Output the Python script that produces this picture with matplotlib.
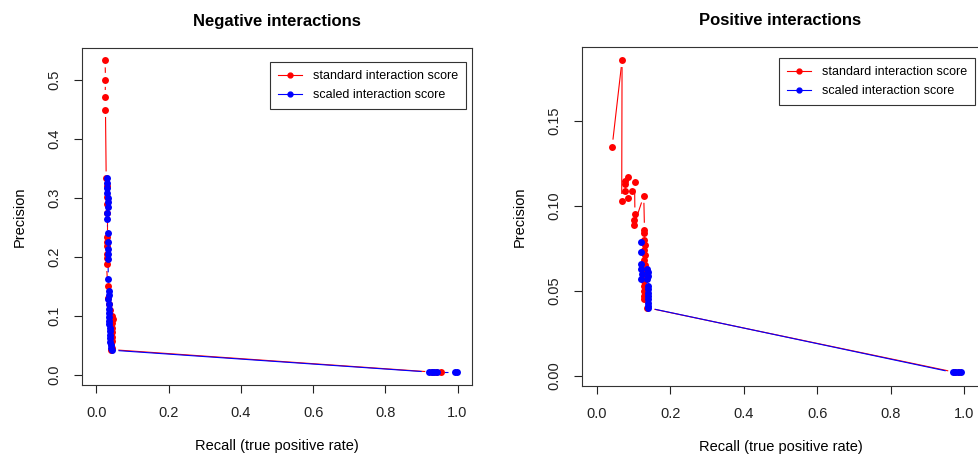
import numpy as np
import matplotlib
matplotlib.use("Agg")
import matplotlib.pyplot as plt
from matplotlib.collections import LineCollection
from matplotlib.lines import Line2D
from matplotlib.transforms import IdentityTransform

plt.rcParams['font.family'] = ['Liberation Sans', 'DejaVu Sans']

# negative interactions (recall, precision)
neg_std_recall = [0.024, 0.025, 0.024, 0.025, 0.027, 0.028, 0.029, 0.028, 0.029, 0.029,
                  0.029, 0.029, 0.030, 0.029, 0.028, 0.031, 0.033, 0.035, 0.038, 0.044,
                  0.045, 0.044, 0.043, 0.042, 0.043, 0.042, 0.041, 0.042, 0.041,
                  0.930, 0.940, 0.953]
neg_std_prec = [0.533, 0.500, 0.471, 0.449, 0.333, 0.320, 0.301, 0.290, 0.275, 0.234,
                0.226, 0.218, 0.205, 0.198, 0.188, 0.150, 0.130, 0.120, 0.110, 0.100,
                0.095, 0.088, 0.080, 0.072, 0.065, 0.058, 0.052, 0.046, 0.043,
                0.005, 0.005, 0.005]
neg_scl_recall = [0.028, 0.029, 0.029, 0.030, 0.031, 0.032, 0.031, 0.030, 0.029, 0.032,
                  0.032, 0.033, 0.033, 0.032, 0.033, 0.034, 0.034, 0.033, 0.034, 0.035,
                  0.034, 0.035, 0.035, 0.036, 0.037, 0.037, 0.037, 0.038, 0.038, 0.039,
                  0.041, 0.042, 0.920, 0.928, 0.935, 0.943, 0.993, 0.998]
neg_scl_prec = [0.333, 0.325, 0.316, 0.308, 0.300, 0.293, 0.285, 0.275, 0.265, 0.240,
                0.226, 0.213, 0.205, 0.196, 0.162, 0.142, 0.135, 0.128, 0.120, 0.112,
                0.105, 0.098, 0.092, 0.086, 0.080, 0.074, 0.068, 0.062, 0.056, 0.050,
                0.045, 0.042, 0.005, 0.005, 0.005, 0.005, 0.005, 0.005]

# positive interactions
pos_std_recall = [0.042, 0.069, 0.068, 0.076, 0.078, 0.086, 0.078, 0.084, 0.095, 0.103,
                  0.104, 0.102, 0.102, 0.128, 0.130, 0.129, 0.130, 0.131, 0.130, 0.131,
                  0.130, 0.131, 0.130, 0.131, 0.130, 0.129, 0.130, 0.129, 0.130, 0.138,
                  0.975, 0.985]
pos_std_prec = [0.135, 0.186, 0.103, 0.113, 0.115, 0.117, 0.109, 0.105, 0.109, 0.114,
                0.095, 0.092, 0.089, 0.106, 0.086, 0.084, 0.080, 0.077, 0.074, 0.071,
                0.068, 0.065, 0.062, 0.059, 0.056, 0.053, 0.050, 0.047, 0.045, 0.040,
                0.002, 0.002]
pos_scl_recall = [0.120, 0.121, 0.121, 0.120, 0.122, 0.120, 0.137, 0.139, 0.140, 0.138,
                  0.139, 0.140, 0.139, 0.140, 0.139, 0.140, 0.139, 0.140,
                  0.968, 0.975, 0.982, 0.990]
pos_scl_prec = [0.079, 0.073, 0.066, 0.063, 0.060, 0.057, 0.063, 0.061, 0.059, 0.057,
                0.053, 0.051, 0.049, 0.047, 0.045, 0.043, 0.041, 0.040,
                0.002, 0.002, 0.002, 0.002]

RED = "#ff0000"
BLUE = "#0000ff"
GAP = 7  # pixels of empty line around each point (like R type="b")


def type_b(ax, x, y, color):
    ax.plot(x, y, "o", color=color, ms=5, mec=color, mew=0, zorder=3)
    pts = ax.transData.transform(np.column_stack([x, y]))
    segs = []
    for p, q in zip(pts[:-1], pts[1:]):
        d = q - p
        L = np.hypot(*d)
        if L > 2 * GAP:
            u = d / L
            segs.append([p + u * GAP, q - u * GAP])
    lc = LineCollection(segs, colors=color, linewidths=0.8, transform=IdentityTransform(), zorder=2)
    ax.add_collection(lc, autolim=False)


fig = plt.figure(figsize=(9.79, 4.55), dpi=100)
ax1 = fig.add_axes([82 / 979, 1 - 385 / 455, 390 / 979, 337 / 455])
ax2 = fig.add_axes([582 / 979, 1 - 385.7 / 455, 397 / 979, 338.7 / 455])

ax1.set_xlim(-0.04, 1.04)
ax1.set_ylim(-0.017, 0.554)
ax2.set_xlim(-0.04, 1.04)
ax2.set_ylim(-0.0059, 0.1937)

setup = [
    (ax1, "Negative interactions", [0, 0.1, 0.2, 0.3, 0.4, 0.5], "{:.1f}", (0.985, 0.958)),
    (ax2, "Positive interactions", [0, 0.05, 0.10, 0.15], "{:.2f}", (0.990, 0.967)),
]
for ax, title, yt, fmt, anchor in setup:
    ax.set_title(title, fontsize=12, fontweight="bold", pad=16)
    ax.set_xticks([0, 0.2, 0.4, 0.6, 0.8, 1.0])
    ax.set_xticklabels(["{:.1f}".format(v) for v in [0, 0.2, 0.4, 0.6, 0.8, 1.0]])
    ax.set_yticks(yt)
    ax.set_yticklabels([fmt.format(v) for v in yt], rotation=90, va="center")
    ax.tick_params(length=6, width=0.8, labelsize=10.5, pad=9, colors="#222222")
    ax.set_xlabel("Recall (true positive rate)", fontsize=10.5, labelpad=14)
    ax.set_ylabel("Precision", fontsize=10.5, labelpad=15)
    for s in ax.spines.values():
        s.set_color("#333333")
        s.set_linewidth(0.8)

fig.canvas.draw()
type_b(ax1, neg_std_recall, neg_std_prec, RED)
type_b(ax1, neg_scl_recall, neg_scl_prec, BLUE)
type_b(ax2, pos_std_recall, pos_std_prec, RED)
type_b(ax2, pos_scl_recall, pos_scl_prec, BLUE)

for ax, title, yt, fmt, anchor in setup:
    handles = [Line2D([], [], color=RED, marker="o", ms=3.5, lw=0.8),
               Line2D([], [], color=BLUE, marker="o", ms=3.5, lw=0.8)]
    leg = ax.legend(handles, ["standard interaction score", "scaled interaction score"],
                    loc="upper right", bbox_to_anchor=anchor, fontsize=9,
                    fancybox=False, framealpha=1, edgecolor="#333333",
                    handlelength=1.9, borderpad=0.65, labelspacing=0.55,
                    handletextpad=0.9, borderaxespad=0)
    leg.get_frame().set_linewidth(0.8)

fig.savefig("out.png", dpi=100)
